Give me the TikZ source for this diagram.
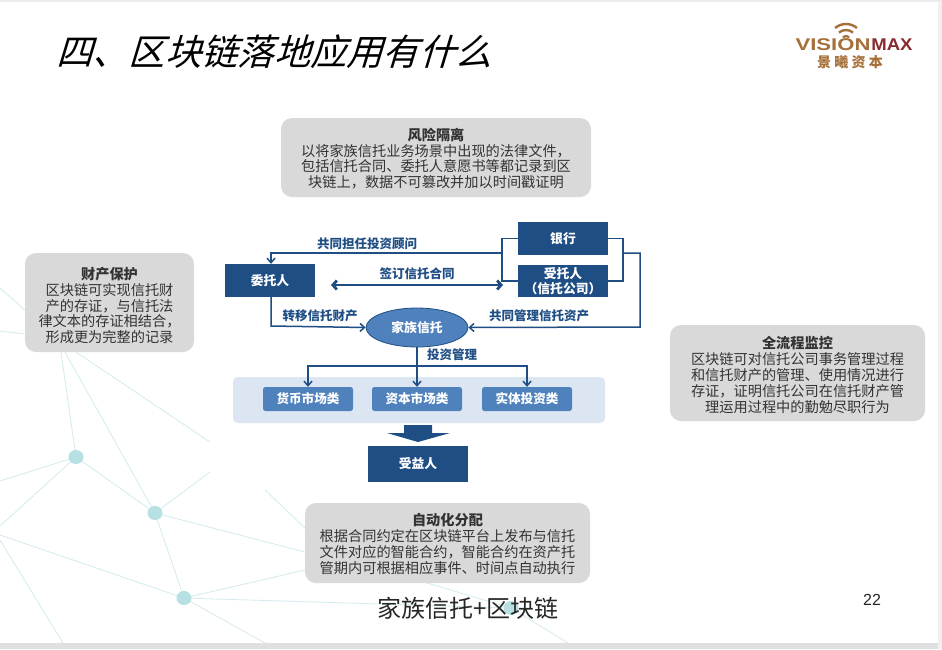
\documentclass[tikz,border=0pt]{standalone}
\usepackage{fontspec}
\setmainfont{Noto Sans CJK SC}
\newfontfamily\titlefont[FakeSlant=0.3]{Noto Sans CJK SC}
\newfontfamily\latinfont{Liberation Sans}
\usetikzlibrary{arrows.meta,calc,shapes.geometric}
\definecolor{navy}{HTML}{1F4E85}
\definecolor{midblue}{HTML}{4F81BD}
\definecolor{pale}{HTML}{DCE6F2}
\definecolor{card}{HTML}{D9D9D9}
\definecolor{net}{HTML}{D3EBEE}
\definecolor{dotc}{HTML}{B7E0E3}
\definecolor{logoa}{HTML}{A5703A}
\definecolor{logob}{HTML}{8A2A2E}
\definecolor{inkc}{HTML}{333333}
\tikzset{
  x=1pt,y=-1pt,
  cardbg/.style={fill=card,rounded corners=11pt,draw=none},
  cardtext/.style={font=\fontsize{14.2}{15.8}\selectfont,text=inkc,align=center,inner sep=0pt},
  darkbox/.style={fill=navy,draw=none,text=white,font=\fontsize{12.8}{14.5}\selectfont\bfseries,align=center},
  smallbox/.style={fill=midblue,draw=none,rounded corners=2.5pt,text=white,font=\fontsize{12.6}{14}\selectfont\bfseries,minimum width=90pt,minimum height=24pt,inner sep=0pt},
  flow/.style={draw=navy,line width=1.5pt},
  flowa/.style={flow,-{Straight Barb[length=4.5pt,width=8pt]}},
  lab/.style={text=navy,font=\fontsize{12.5}{14}\selectfont\bfseries,inner sep=0pt},
  netl/.style={draw=net,line width=0.8pt},
  dot/.style={ellipse,fill=dotc,draw=none,minimum width=15pt,minimum height=14pt,inner sep=0pt},
  logotext/.style={anchor=center,inner sep=0pt,transform shape,font=\fontsize{17}{18}\selectfont\latinfont\bfseries},
}
\begin{document}
\begin{tikzpicture}
\useasboundingbox (0,0) rectangle (942,649);
\fill[white] (0,0) rectangle (942,649);
\fill[black!12] (0,643) rectangle (942,649);
\fill[black!6] (938,0) rectangle (942,649);
\fill[black!8] (0,0) rectangle (942,2);
% network
\coordinate (n1) at (76,457);
\coordinate (n2) at (155,513);
\coordinate (n3) at (184,598);
\coordinate (n4) at (511,608);
\foreach \a/\b in {n1/61,n2/65}{\draw[netl] (\a) -- (\b,352);}
\draw[netl] (n1) -- (0,481);
\draw[netl] (n1) -- (0,526);
\draw[netl] (n1) -- (n2);
\draw[netl] (n2) -- (210,472);
\draw[netl] (n2) -- (n3);
\draw[netl] (n2) -- (305,552);
\draw[netl] (n3) -- (305,570);
\draw[netl] (n3) -- (265,643);
\draw[netl] (n3) -- (0,535);
\draw[netl] (n3) -- (n4);
\draw[netl] (427,583) -- (n4);
\draw[netl] (n4) -- (568,643);
\draw[netl] (76,352) -- (210,442);
\draw[netl] (0,540) -- (63,643);
\draw[netl] (0,288) -- (25,310);
\draw[netl] (0,331) -- (25,334);
\draw[netl] (265,490) -- (305,528);
\node[dot] at (n1) {};
\node[dot] at (n2) {};
\node[dot] at (n3) {};
\node[dot] at (n4) {};
% title
\node[anchor=west,inner sep=0pt,font=\fontsize{36.3}{40}\selectfont\titlefont] (title) at (56,52) {四、区块链落地应用有什么};
% logo
\foreach \r/\w in {17/2.4,11/2.4,5/2.2}{
  \draw[logoa,line width=\w pt] ($(846,41)+(-50:\r)$) arc[start angle=-50,end angle=-130,radius=\r];
}
\node[logotext,text=logoa,xscale=1.3] (vis) at (833,45) {VISION};
\node[logotext,text=logob,xscale=1.09] (max) at (892,45) {MAX};
\node[anchor=center,inner sep=0pt,text=logoa,font=\fontsize{14}{15}\selectfont\bfseries] (cn) at (850,62) {景 曦 资 本};
% cards
\fill[cardbg] (281,118) rectangle (591,197);
\node[cardtext] (c1) at (436,158.5) {\textbf{风险隔离}\\以将家族信托业务场景中出现的法律文件，\\包括信托合同、委托人意愿书等都记录到区\\块链上，数据不可篡改并加以时间戳证明};
\fill[cardbg] (25,253) rectangle (194,352);
\node[cardtext] (c2) at (109.5,305.5) {\textbf{财产保护}\\区块链可实现信托财\\产的存证，与信托法\\律文本的存证相结合，\\形成更为完整的记录};
\fill[cardbg] (670,325) rectangle (925,421);
\node[cardtext] (c3) at (797.5,375) {\textbf{全流程监控}\\区块链可对信托公司事务管理过程\\和信托财产的管理、使用情况进行\\存证，证明信托公司在信托财产管\\理运用过程中的勤勉尽职行为};
\fill[cardbg] (305,503) rectangle (590,583);
\node[cardtext] (c4) at (447.5,544) {\textbf{自动化分配}\\根据合同约定在区块链平台上发布与信托\\文件对应的智能合约，智能合约在资产托\\管期内可根据相应事件、时间点自动执行};
% diagram
\fill[pale,rounded corners=5pt] (233,377) rectangle (605,423);
\node[darkbox,minimum width=90pt,minimum height=33pt,inner sep=0pt] (wtr) at (270,280.5) {委托人};
\node[darkbox,minimum width=90pt,minimum height=33pt,inner sep=0pt] (bank) at (563,238.5) {银行};
\node[darkbox,minimum width=90pt,minimum height=32pt,inner sep=0pt] (str) at (563,281) {受托人\\（信托公司）};
\node[ellipse,fill=midblue,draw=navy,line width=0.8pt,text=white,minimum width=102pt,minimum height=39pt,inner sep=0pt,font=\fontsize{12.8}{14}\selectfont\bfseries] (jz) at (417,327.5) {家族信托};
\node[smallbox] (hb) at (308,399) {货币市场类};
\node[smallbox] (zb) at (417,399) {资本市场类};
\node[smallbox] (st) at (527,399) {实体投资类};
\node[darkbox,minimum width=100pt,minimum height=36pt,inner sep=0pt] (syr) at (418,464) {受益人};
% block arrow
\fill[navy] (404,425) -- (432,425) -- (432,433) -- (450,433) -- (418,442) -- (387,433) -- (404,433) -- cycle;
% connectors
\coordinate (bl) at (502,253);
\coordinate (br) at (623,253);
\coordinate (far) at (640,253);
\coordinate (da) at (331,285);
\coordinate (db) at (503,285);
\coordinate (split) at (417,366);
\coordinate (wtop) at (271,253);
\coordinate (fare) at (640,327);
\coordinate (wcor) at (271,326);
\draw[flow] (bank.west) -| (bl) |- (str.west);
\draw[flow] (bank.east) -| (br) |- (str.east);
\draw[flowa] (bl) -- (wtop) -- (wtop|-wtr.north);
\draw[flowa] (br) -- (far) -- (fare) -- (jz.east);
\draw[flowa] (wtop|-wtr.south) -- (wcor) -- (jz.west);
\draw[navy,line width=2.8pt,{Straight Barb[length=4pt,width=9pt]}-{Straight Barb[length=4pt,width=9pt]}] (da) -- (db);
\draw[flowa] (jz.south) -- (zb.north);
\draw[flowa] (split) -| (hb.north);
\draw[flowa] (split) -| (st.north);
% labels
\node[lab] (l1) at (367,244) {共同担任投资顾问};
\node[lab] (l2) at (417,274) {签订信托合同};
\node[lab] (l3) at (320,316) {转移信托财产};
\node[lab] (l4) at (539,316) {共同管理信托资产};
\node[lab] (l5) at (452,355) {投资管理};
% footer
\node[inner sep=0pt,font=\fontsize{24}{28}\selectfont,text=black!85] (ft) at (468,608) {家族信托+区块链};
\node[inner sep=0pt,font=\fontsize{16}{18}\selectfont\latinfont,text=black!85] (pg) at (872,600) {22};
\end{tikzpicture}
\end{document}
